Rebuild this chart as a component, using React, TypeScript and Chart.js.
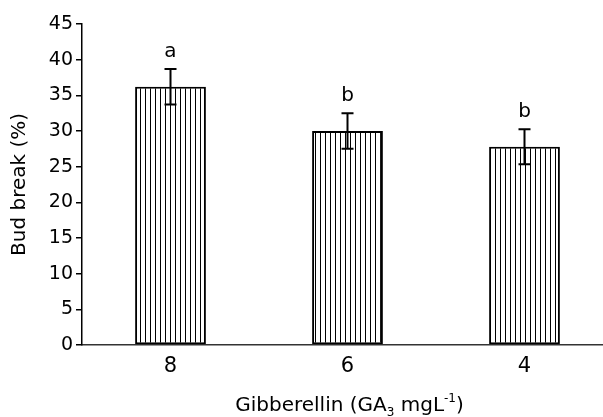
import React, { useEffect, useRef } from "react";
import { Chart, registerables } from "chart.js";

Chart.register(...registerables);

const categories = ["8", "6", "4"];
const budBreak = [36.2, 30.0, 27.8];
const errors = [2.5, 2.5, 2.45];
const letters = ["a", "b", "b"];
const yMin = 0;
const yMax = 45;
const yStep = 5;

const FONT = "'DejaVu Sans', 'Liberation Sans', Arial, sans-serif";

const errorBarPlugin = {
  id: "errorBars",
  afterDatasetsDraw(chart: any) {
    const { ctx, scales } = chart;
    const y = scales.y;
    const meta = chart.getDatasetMeta(0);
    ctx.save();
    ctx.strokeStyle = "#000";
    ctx.lineWidth = 2;
    meta.data.forEach((bar: any, i: number) => {
      const x = bar.x;
      const top = y.getPixelForValue(budBreak[i] + errors[i]);
      const bot = y.getPixelForValue(budBreak[i] - errors[i]);
      ctx.beginPath();
      ctx.moveTo(x, top);
      ctx.lineTo(x, bot);
      ctx.moveTo(x - 6, top);
      ctx.lineTo(x + 6, top);
      ctx.moveTo(x - 6, bot);
      ctx.lineTo(x + 6, bot);
      ctx.stroke();
      ctx.font = `20px ${FONT}`;
      ctx.textAlign = "center";
      ctx.textBaseline = "alphabetic";
      ctx.fillStyle = "#000";
      ctx.fillText(letters[i], x, top - 12);
    });
    ctx.restore();
  },
};

const xTitlePlugin = {
  id: "xTitle",
  afterDraw(chart: any) {
    const { ctx, chartArea } = chart;
    const pieces = [
      { t: "Gibberellin (GA", size: 20, dy: 0 },
      { t: "3", size: 12, dy: 5 },
      { t: " mgL", size: 20, dy: 0 },
      { t: "-1", size: 12, dy: -9 },
      { t: ")", size: 20, dy: 0 },
    ];
    ctx.save();
    let total = 0;
    const widths = pieces.map((p) => {
      ctx.font = `${p.size}px ${FONT}`;
      const w = ctx.measureText(p.t).width;
      total += w;
      return w;
    });
    const cx = (chartArea.left + chartArea.right) / 2 + 2;
    let x = cx - total / 2;
    const baseline = 411;
    ctx.fillStyle = "#000";
    ctx.textAlign = "left";
    ctx.textBaseline = "alphabetic";
    pieces.forEach((p, i) => {
      ctx.font = `${p.size}px ${FONT}`;
      ctx.fillText(p.t, x, baseline + p.dy);
      x += widths[i];
    });
    ctx.restore();
  },
};

export default function App() {
  const ref = useRef<HTMLCanvasElement>(null);

  useEffect(() => {
    const canvas = ref.current;
    if (!canvas) return;
    const pc = document.createElement("canvas");
    pc.width = 5;
    pc.height = 4;
    const pctx = pc.getContext("2d")!;
    pctx.fillStyle = "#fff";
    pctx.fillRect(0, 0, 5, 4);
    pctx.fillStyle = "#000";
    pctx.fillRect(0, 0, 1, 4);
    const pattern = canvas.getContext("2d")!.createPattern(pc, "repeat");

    const chart = new Chart(canvas, {
      type: "bar",
      data: {
        labels: categories,
        datasets: [
          {
            data: budBreak,
            backgroundColor: pattern as any,
            borderColor: "#000",
            borderWidth: 2,
            borderSkipped: false,
            barPercentage: 0.4,
            categoryPercentage: 1,
          },
        ],
      },
      options: {
        animation: false,
        responsive: false,
        devicePixelRatio: 1,
        layout: { padding: { top: 24, right: 7, left: 0, bottom: 0 } },
        plugins: {
          legend: { display: false },
          tooltip: { enabled: false },
        },
        scales: {
          x: {
            grid: { display: false, drawTicks: false },
            border: { display: true, color: "#333", width: 1.5 },
            ticks: {
              color: "#000",
              font: { family: FONT, size: 21 },
              padding: 9,
            },
            afterFit(scale: any) {
              scale.height = 72;
            },
          },
          y: {
            min: yMin,
            max: yMax,
            grid: {
              display: true,
              drawOnChartArea: false,
              drawTicks: true,
              tickLength: 6,
              color: "#000",
              lineWidth: 1.5,
            },
            border: { display: true, color: "#000", width: 1.5 },
            ticks: {
              stepSize: yStep,
              color: "#000",
              font: { family: FONT, size: 19 },
              padding: 3,
            },
            title: {
              display: true,
              text: "Bud break (%)",
              color: "#000",
              font: { family: FONT, size: 20 },
              padding: { top: 8, bottom: 0 },
            },
            afterFit(scale: any) {
              scale.width = 82;
            },
          },
        },
      },
      plugins: [errorBarPlugin, xTitlePlugin],
    });

    return () => chart.destroy();
  }, []);

  return (
    <div
      style={{
        position: "absolute",
        left: 0,
        top: 0,
        width: 603,
        height: 417,
        overflow: "hidden",
        background: "#fff",
      }}
    >
      <canvas
        ref={ref}
        width={620}
        height={417}
        style={{ display: "block", width: 620, height: 417 }}
      />
    </div>
  );
}
